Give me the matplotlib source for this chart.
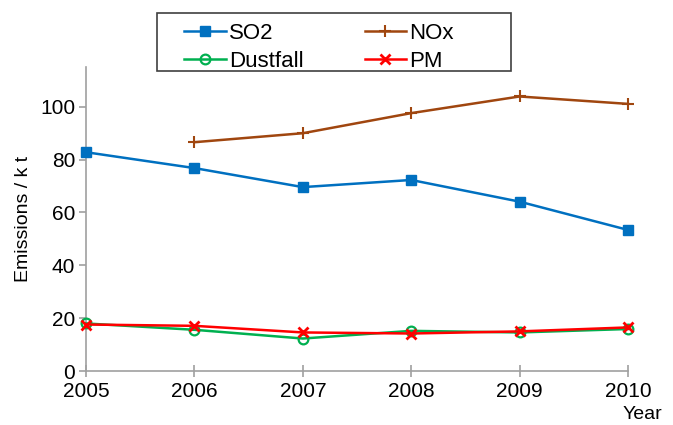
import numpy as np
import matplotlib.pyplot as plt
import matplotlib
from matplotlib.patches import Rectangle
matplotlib.rcParams['font.family'] = ['Liberation Sans', 'DejaVu Sans']

# annual emissions (kt)
years = [2005, 2006, 2007, 2008, 2009, 2010]
so2 = [82.8, 76.8, 69.6, 72.3, 64.1, 53.4]
nox_years = [2006, 2007, 2008, 2009, 2010]
nox = [86.6, 90.0, 97.6, 103.9, 101.1]
dustfall = [18.0, 15.6, 12.3, 15.2, 14.6, 15.9]
pm = [17.6, 17.1, 14.6, 14.2, 15.0, 16.5]

fig = plt.figure(figsize=(6.73, 4.25), dpi=100)
ax = fig.add_axes([0.128, 0.127, 0.805, 0.715])

l_so2, = ax.plot(years, so2, color='#0070C0', marker='s', markersize=7, linewidth=1.8,
                 label='SO2', clip_on=False, zorder=3)
l_nox, = ax.plot(nox_years, nox, color='#A0460F', marker='+', markersize=9, markeredgewidth=1.5,
                 linewidth=1.8, label='NOx', clip_on=False, zorder=3)
l_dust, = ax.plot(years, dustfall, color='#00B050', marker='o', markersize=7, markerfacecolor='none',
                  markeredgewidth=1.6, linewidth=1.8, label='Dustfall', clip_on=False, zorder=3)
l_pm, = ax.plot(years, pm, color='#FF0000', marker='x', markersize=7, markeredgewidth=2,
                linewidth=1.8, label='PM', clip_on=False, zorder=4)

ax.set_xlim(2005, 2010)
ax.set_ylim(0, 115)
ax.set_yticks([0, 20, 40, 60, 80, 100])
ax.set_xticks(years)

for s in ['top', 'right']:
    ax.spines[s].set_visible(False)
for s in ['left', 'bottom']:
    ax.spines[s].set_color('#A0A0A0')
    ax.spines[s].set_linewidth(1.2)
ax.tick_params(axis='y', colors='#A0A0A0', labelcolor='black', labelsize=15,
               direction='out', length=5, width=1.2, pad=3)
ax.tick_params(axis='x', colors='#A0A0A0', labelcolor='black', labelsize=15,
               direction='inout', length=8, width=1.2, pad=4)

ax.set_ylabel('Emissions / k t', fontsize=14, labelpad=6)
fig.text(0.955, 0.005, 'Year', fontsize=14, ha='center', va='bottom')

# legend box drawn separately, entries placed inside
fig.patches.append(Rectangle((0.2333, 0.833), 0.526, 0.1365, transform=fig.transFigure,
                             facecolor='white', edgecolor='#404040', linewidth=1.2, zorder=5))
leg = fig.legend([l_so2, l_dust, l_nox, l_pm], ['SO2', 'Dustfall', 'NOx', 'PM'],
                 loc='upper left', bbox_to_anchor=(0.274, 0.947), ncol=2, fontsize=16,
                 frameon=False, handlelength=1.85, handletextpad=0.15, columnspacing=2.75,
                 borderpad=0, borderaxespad=0, labelspacing=0.32)
leg.set_zorder(6)

fig.savefig('out.png', dpi=100)
